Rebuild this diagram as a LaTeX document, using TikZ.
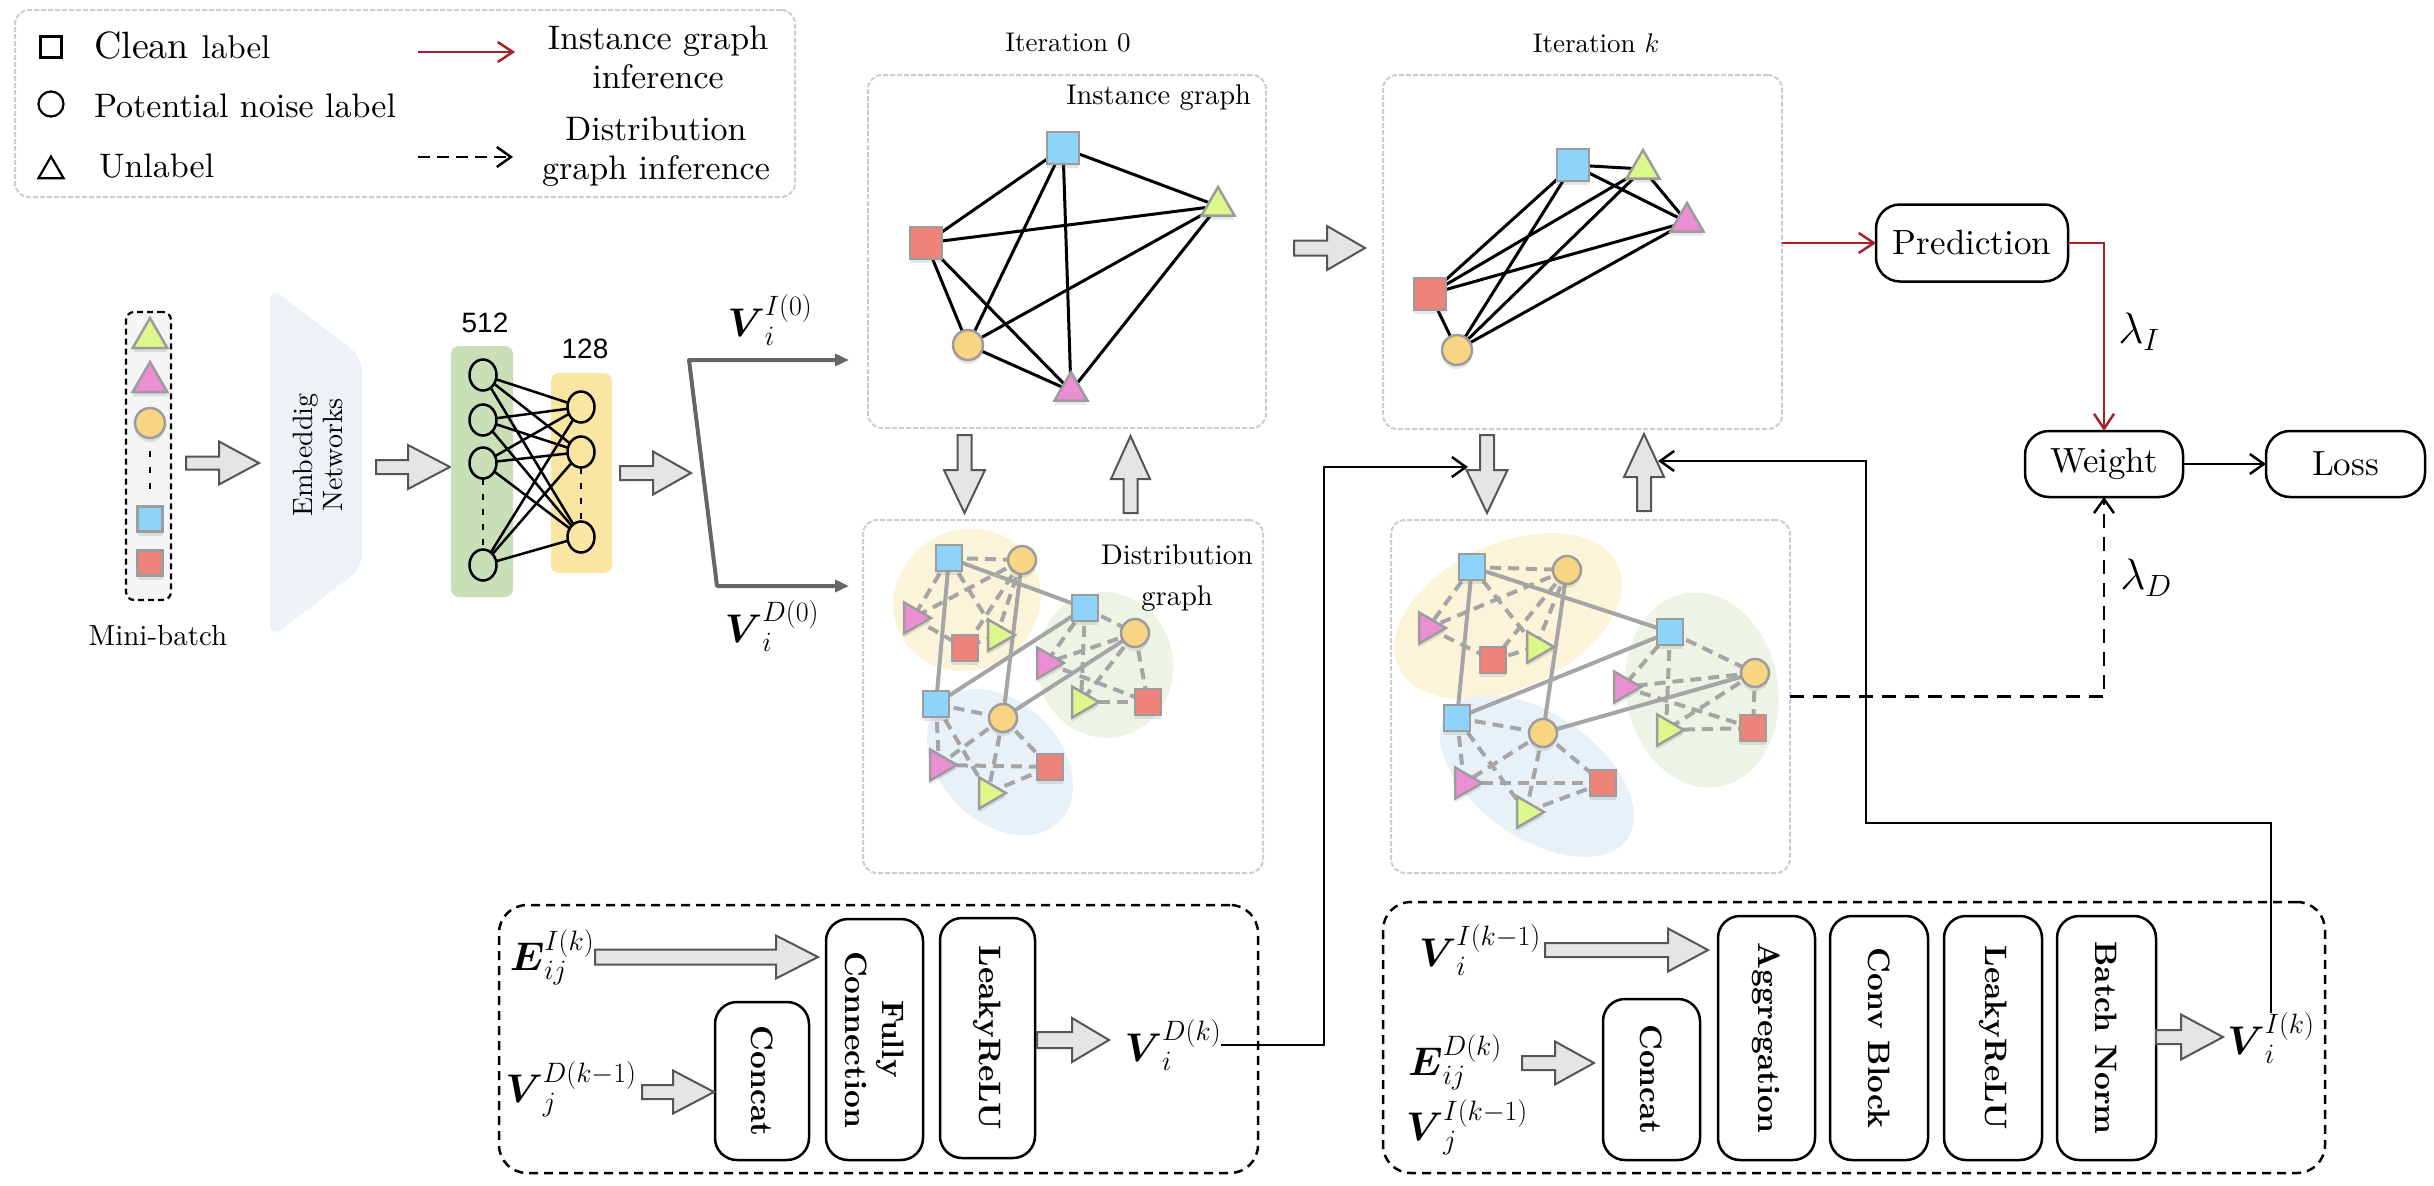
\RequirePackage{fix-cm}
\documentclass[tikz,border=0pt]{standalone}
\usepackage{amsmath}
\usepackage{fontspec}
\setmainfont{lmroman10-regular.otf}[BoldFont=lmroman10-bold.otf,ItalicFont=lmroman10-italic.otf,BoldItalicFont=lmroman10-bolditalic.otf]
\usetikzlibrary{shapes.geometric,arrows.meta,shadows,calc}
\newfontfamily\hel{Liberation Sans}
\newcommand\fsz[1]{\fontsize{#1}{#1}\selectfont}
\newcommand\fs[2]{\fontsize{#1}{#2}\selectfont}
\definecolor{cblue}{HTML}{8ED4FA}
\definecolor{cred}{HTML}{EE837A}
\definecolor{cgreen}{HTML}{DDF78A}
\definecolor{cpink}{HTML}{EC8ED4}
\definecolor{corange}{HTML}{F8D582}
\definecolor{ngray}{HTML}{9C9C9C}
\definecolor{eyel}{HTML}{FCF4D9}
\definecolor{egrn}{HTML}{EDF3E5}
\definecolor{eblu}{HTML}{E8F0F8}
\definecolor{lgreen}{HTML}{C8DFB8}
\definecolor{lyel}{HTML}{FAE5A3}
\definecolor{embc}{HTML}{ECF2F5}
\definecolor{mbfill}{HTML}{F4F5F7}
\definecolor{boxg}{HTML}{CDCDCD}
\definecolor{arrf}{HTML}{E5E5E5}
\definecolor{arrd}{HTML}{555555}
\definecolor{forkc}{HTML}{666666}
\definecolor{dred}{HTML}{A3222B}
\definecolor{egray}{HTML}{A5A5A5}
\pgfdeclarelayer{bg}
\pgfsetlayers{bg,main}
\newcommand\harr[6]{\draw[barrow] (#1,#3-#4) -- (#2-#6,#3-#4) -- (#2-#6,#3-#5) -- (#2,#3) -- (#2-#6,#3+#5) -- (#2-#6,#3+#4) -- (#1,#3+#4) -- cycle;}
\newcommand\darr[6]{\draw[barrow] (#1-#4,#2) -- (#1-#4,#3-#6) -- (#1-#5,#3-#6) -- (#1,#3) -- (#1+#5,#3-#6) -- (#1+#4,#3-#6) -- (#1+#4,#2) -- cycle;}
\newcommand\uarr[6]{\draw[barrow] (#1-#4,#2) -- (#1-#4,#3+#6) -- (#1-#5,#3+#6) -- (#1,#3) -- (#1+#5,#3+#6) -- (#1+#4,#3+#6) -- (#1+#4,#2) -- cycle;}
\begin{document}
\begin{tikzpicture}[x=1pt,y=-1pt,
  every node/.style={inner sep=0pt,outer sep=0pt},
  shad/.style={drop shadow={shadow xshift=0pt,shadow yshift=-4pt,opacity=0.2}},
  nsq/.style={rectangle,minimum size=#1,draw=ngray,line width=2.5pt,shad},
  nci/.style={circle,minimum size=#1,draw=ngray,line width=2.5pt,fill=corange,shad},
  ntu/.style={regular polygon,regular polygon sides=3,minimum size=#1,draw=ngray,line width=2.5pt,shad},
  ntr/.style={regular polygon,regular polygon sides=3,minimum size=#1,draw=ngray,line width=2.5pt,shape border rotate=-90,shad},
  neur/.style={ellipse,draw=black,line width=2.5pt,minimum width=27pt,minimum height=31pt},
  barrow/.style={fill=arrf,draw=arrd,line width=2pt,line join=miter},
  gbox/.style={draw=boxg,line width=2pt,dash pattern=on 5pt off 2pt,rounded corners=14pt},
  iedge/.style={black,line width=3pt},
  dsol/.style={egray,line width=4pt},
  ddash/.style={egray,line width=4pt,dash pattern=on 11pt off 7pt},
  fork/.style={forkc,line width=4pt,line join=round},
  redarr/.style={dred,line width=2.5pt,-{Straight Barb[length=15pt,width=20pt,line width=2.5pt]}},
  blkarr/.style={black,line width=2.5pt,-{Straight Barb[length=14pt,width=20pt,line width=2.5pt]}},
  rbox/.style={draw=black,line width=2.5pt,rounded corners=24pt,font=\fs{35}{38}},
  big/.style={font=\fs{34}{39}},
  ibox/.style={draw=black,line width=2.5pt,rounded corners=22pt,rotate=-90,align=center,font=\bfseries\fs{31}{37}},
  dbox/.style={draw=black,line width=2.5pt,dash pattern=on 9pt off 6pt,rounded corners=28pt},
  mlab/.style={font=\fsz{40}}
]
\useasboundingbox (0,0) rectangle (2434,1186);

% ---------------- legend ----------------
\node[gbox,minimum width=780pt,minimum height=187pt] (legend) at (405,103.5) {};
\node[draw=black,line width=2.2pt,minimum size=21pt] (lg1) at (51,47) {};
\node[anchor=base west] (lt1) at (94,58) {\fsz{38}Clean \fsz{33}label};
\node[circle,draw=black,line width=2.2pt,minimum size=25pt] (lg2) at (51,104) {};
\node[anchor=base west,big] (lt2) at (94,117) {Potential noise label};
\node[regular polygon,regular polygon sides=3,draw=black,line width=2.2pt,minimum size=29pt] (lg3) at (51,171) {};
\node[anchor=base west,big] (lt3) at (99,177) {Unlabel};
\coordinate (la1) at (418,52); \coordinate (lb1) at (515,52);
\draw[redarr] (la1) -- (lb1);
\node[align=center,big] (lt4) at (658,57) {Instance graph\\inference};
\coordinate (la2) at (418,157); \coordinate (lb2) at (513,157);
\draw[blkarr,dash pattern=on 12pt off 7pt] (la2) -- (lb2);
\node[align=center,big] (lt5) at (656,152) {Distribution\\graph inference};

% ---------------- mini-batch ----------------
\node[draw=black,line width=2.2pt,dash pattern=on 6pt off 4pt,rounded corners=8pt,fill=mbfill,minimum width=45pt,minimum height=288pt] (mb) at (148.5,456) {};
\node[ntu=40pt,fill=cgreen] (m1) at (150,338) {};
\node[ntu=40pt,fill=cpink] (m2) at (150,382) {};
\node[nci=30pt] (m3) at (150,423) {};
\coordinate (md1) at (150,451); \coordinate (md2) at (150,496);
\draw[black,line width=2.5pt,dash pattern=on 6pt off 10pt] (md1) -- (md2);
\node[nsq=25pt,fill=cblue] (m4) at (150,519) {};
\node[nsq=25pt,fill=cred] (m5) at (150,563) {};
\node[font=\fsz{29}] (mbt) at (158,636) {Mini-batch};

\harr{186}{259}{463}{6.5}{21.5}{40}

% ---------------- embedding ----------------
\path[fill=embc,rounded corners=14pt] (270,287) -- (362,357) -- (362,568) -- (270,638) -- cycle;
\node[rotate=90,align=center,font=\fs{28}{30}] (embt) at (318,455) {Embeddig\\Networks};

\harr{376}{450}{467}{7}{22}{42}

% ---------------- layers ----------------
\node[fill=lgreen,rounded corners=8pt,minimum width=62pt,minimum height=251pt] (lay1) at (482,471.5) {};
\node[fill=lyel,rounded corners=8pt,minimum width=61pt,minimum height=200pt] (lay2) at (581.5,473) {};
\node[font=\hel\fsz{28}] (n512) at (485,323) {512};
\node[font=\hel\fsz{28}] (n128) at (585,349) {128};
\node[neur] (g1) at (483,375) {};
\node[neur] (g2) at (483,420) {};
\node[neur] (g3) at (483,463) {};
\node[neur] (g4) at (483,565) {};
\node[neur] (y1) at (581,407) {};
\node[neur] (y2) at (581,452) {};
\node[neur] (y3) at (581,537) {};
\foreach \a in {g1,g2,g3,g4}{\foreach \b in {y1,y2,y3}{\draw[black,line width=2.5pt] (\a) -- (\b);}}
\draw[black,line width=2.5pt,dash pattern=on 6pt off 9pt] (g3) -- (g4);
\draw[black,line width=2.5pt,dash pattern=on 6pt off 9pt] (y2) -- (y3);

\harr{620}{691}{473}{7}{21.5}{38}

% ---------------- fork ----------------
\node[mlab] (vI0) at (770,320) {$\boldsymbol{V}_i^{I(0)}$};
\node[mlab] (vD0) at (772,626) {$\boldsymbol{V}_i^{D(0)}$};
\coordinate (ftop) at (689,360);
\coordinate (fbot) at (717,586);
\coordinate (fI) at (849,360);
\coordinate (fD) at (849,586);
\draw[fork,{Triangle[length=14pt,width=12pt]}-{Triangle[length=14pt,width=12pt]}] (fI) -- (ftop) -- (fbot) -- (fD);

% ---------------- graph boxes ----------------
\node[font=\fsz{27}] (it0) at (1068,43) {Iteration 0};
\node[font=\fsz{27}] (itk) at (1596,43) {Iteration $k$};
\node[gbox,minimum width=398pt,minimum height=353pt] (inst0) at (1067,251.5) {};
\node[gbox,minimum width=399pt,minimum height=354pt] (instk) at (1582.5,252) {};
\node[gbox,minimum width=400pt,minimum height=353pt] (dist0) at (1063,696.5) {};
\node[gbox,minimum width=399pt,minimum height=353pt] (distk) at (1590.5,696.5) {};
\node[anchor=east,font=\fsz{28.5}] (igt) at (1251,98) {Instance graph};
\node[align=center,font=\fs{28.5}{41}] (dgt) at (1177,578) {Distribution\\graph};

% instance graph 0
\node[nsq=32pt,fill=cblue] (iB) at (1063,148) {};
\node[nsq=32pt,fill=cred] (iR) at (926,243) {};
\node[ntu=38pt,fill=cgreen] (iG) at (1218,206) {};
\node[ntu=38pt,fill=cpink] (iP) at (1071,391) {};
\node[nci=30pt] (iO) at (968,345) {};
\begin{pgfonlayer}{bg}
\foreach \a/\b in {iB/iR,iB/iO,iB/iP,iB/iG,iR/iG,iR/iO,iR/iP,iO/iG,iO/iP,iG/iP}{\draw[iedge] (\a.center) -- (\b.center);}
\end{pgfonlayer}

% instance graph k
\node[nsq=32pt,fill=cblue] (kB) at (1573,165) {};
\node[ntu=38pt,fill=cgreen] (kG) at (1643,169) {};
\node[ntu=38pt,fill=cpink] (kP) at (1687,222) {};
\node[nsq=32pt,fill=cred] (kR) at (1430,294) {};
\node[nci=30pt] (kO) at (1457,350) {};
\begin{pgfonlayer}{bg}
\foreach \a/\b in {kB/kG,kB/kP,kG/kP,kR/kB,kR/kG,kR/kP,kR/kO,kO/kB,kO/kG,kO/kP}{\draw[iedge] (\a.center) -- (\b.center);}
\end{pgfonlayer}

% distribution graph 0
\begin{pgfonlayer}{bg}
\fill[eyel] (967,600) ellipse [x radius=75, y radius=70, rotate=30];
\fill[egrn] (1105,665) ellipse [x radius=68, y radius=73, rotate=10];
\fill[eblu] (1000,762) ellipse [x radius=84, y radius=60, rotate=-45];
\end{pgfonlayer}
\node[nsq=26pt,fill=cblue] (aB1) at (949,558) {};
\node[nci=28pt] (aO1) at (1022,560) {};
\node[ntr=36pt,fill=cpink] (aP1) at (913,618) {};
\node[nsq=26pt,fill=cred] (aR1) at (965,648) {};
\node[ntr=36pt,fill=cgreen] (aG1) at (997,635) {};
\node[nsq=26pt,fill=cblue] (aB2) at (1085,608) {};
\node[nci=28pt] (aO2) at (1135,633) {};
\node[ntr=36pt,fill=cpink] (aP2) at (1046,663) {};
\node[ntr=36pt,fill=cgreen] (aG2) at (1081,702) {};
\node[nsq=26pt,fill=cred] (aR2) at (1148,702) {};
\node[nsq=26pt,fill=cblue] (aB3) at (936,704) {};
\node[nci=28pt] (aO3) at (1003,718) {};
\node[ntr=36pt,fill=cpink] (aP3) at (939,765) {};
\node[ntr=36pt,fill=cgreen] (aG3) at (988,793) {};
\node[nsq=26pt,fill=cred] (aR3) at (1050,767) {};
\begin{pgfonlayer}{bg}
\foreach \i in {1,2,3}{
  \foreach \a/\b in {B/O,B/P,B/G,O/P,O/G,O/R,P/R,G/R}{\draw[ddash] (a\a\i.center) -- (a\b\i.center);}
}
\foreach \a/\b in {aB1/aB2,aB1/aB3,aO1/aO3,aB3/aB2,aO3/aO2}{\draw[dsol] (\a.center) -- (\b.center);}
\end{pgfonlayer}

% distribution graph k
\begin{pgfonlayer}{bg}
\fill[eyel] (1508,616) ellipse [x radius=121, y radius=72, rotate=25];
\fill[egrn] (1702,690) ellipse [x radius=76, y radius=98, rotate=10];
\fill[eblu] (1537,776) ellipse [x radius=110, y radius=62, rotate=-35];
\end{pgfonlayer}
\node[nsq=26pt,fill=cblue] (bB1) at (1472,567) {};
\node[nci=28pt] (bO1) at (1567,570) {};
\node[ntr=36pt,fill=cpink] (bP1) at (1428,628) {};
\node[nsq=26pt,fill=cred] (bR1) at (1493,660) {};
\node[ntr=36pt,fill=cgreen] (bG1) at (1536,647) {};
\node[nsq=26pt,fill=cblue] (bB2) at (1670,632) {};
\node[nci=28pt] (bO2) at (1755,673) {};
\node[ntr=36pt,fill=cpink] (bP2) at (1623,687) {};
\node[ntr=36pt,fill=cgreen] (bG2) at (1666,730) {};
\node[nsq=26pt,fill=cred] (bR2) at (1753,728) {};
\node[nsq=26pt,fill=cblue] (bB3) at (1457,718) {};
\node[nci=28pt] (bO3) at (1543,733) {};
\node[ntr=36pt,fill=cpink] (bP3) at (1464,783) {};
\node[ntr=36pt,fill=cgreen] (bG3) at (1526,812) {};
\node[nsq=26pt,fill=cred] (bR3) at (1603,783) {};
\begin{pgfonlayer}{bg}
\foreach \i in {1,2,3}{
  \foreach \a/\b in {B/O,B/P,B/G,O/P,O/G,O/R,P/R,G/R}{\draw[ddash] (b\a\i.center) -- (b\b\i.center);}
}
\foreach \a/\b in {bB1/bB2,bB1/bB3,bO1/bO3,bB3/bB2,bO3/bO2}{\draw[dsol] (\a.center) -- (\b.center);}
\end{pgfonlayer}

% block arrows between graphs
\harr{1294}{1365}{248}{7.5}{22}{38}
\darr{964.5}{435}{513}{7}{20.5}{43}
\uarr{1130.5}{513}{436}{7}{19.5}{43}
\darr{1487}{435}{513}{7}{20.5}{43}
\uarr{1644}{511}{434}{7}{20}{43}

% ---------------- right side ----------------
\node[rbox,minimum width=192pt,minimum height=77pt] (pred) at (1972,243) {Prediction};
\node[rbox,minimum width=158pt,minimum height=66pt] (weight) at (2104,464) {Weight};
\node[rbox,minimum width=159pt,minimum height=66pt] (loss) at (2345.5,464) {Loss};
\draw[redarr] (instk.east |- pred.west) -- (pred.west);
\draw[dred,line width=2.5pt,-{Straight Barb[length=15pt,width=20pt,line width=2.5pt]}] (pred.east) -| (weight.north);
\draw[blkarr] (weight.east) -- (loss.west);
\draw[blkarr,dash pattern=on 14pt off 9pt] (distk.east) -| (weight.south);
\node[font=\fsz{44}] (lI) at (2139,332) {$\lambda_I$};
\node[font=\fsz{44}] (lD) at (2146,578) {$\lambda_D$};

% ---------------- bottom left ----------------
\node[dbox,minimum width=759pt,minimum height=268pt] (bl) at (878.5,1039) {};
\node[mlab] (eIk) at (552,957) {$\boldsymbol{E}_{ij}^{I(k)}$};
\node[mlab] (vDj) at (571,1089) {$\boldsymbol{V}_j^{D(k-1)}$};
\node[ibox,minimum width=158pt,minimum height=94pt] (cc1) at (762,1081) {Concat};
\node[ibox,minimum width=241pt,minimum height=97pt] (fc1) at (874.5,1039.5) {Fully\\Connection};
\node[ibox,minimum width=240pt,minimum height=95pt] (lr1) at (987.5,1038) {LeakyReLU};
\node[mlab] (vDk) at (1173,1045) {$\boldsymbol{V}_i^{D(k)}$};
\harr{595}{818}{957}{7.5}{21.5}{42}
\harr{642}{714}{1092}{7}{21.5}{41}
\harr{1037}{1109}{1040}{8}{22}{37}

% ---------------- bottom right ----------------
\node[dbox,minimum width=942pt,minimum height=271pt] (br) at (1854,1037.5) {};
\node[mlab] (vIi) at (1480,950) {$\boldsymbol{V}_i^{I(k-1)}$};
\node[mlab] (eDk) at (1455,1062) {$\boldsymbol{E}_{ij}^{D(k)}$};
\node[mlab] (vIj) at (1467,1127) {$\boldsymbol{V}_j^{I(k-1)}$};
\node[ibox,minimum width=161pt,minimum height=97pt] (cc2) at (1651.5,1079.5) {Concat};
\node[ibox,minimum width=244pt,minimum height=97pt] (ag) at (1766.5,1038) {Aggregation};
\node[ibox,minimum width=244pt,minimum height=98pt] (cb) at (1879,1038) {Conv Block};
\node[ibox,minimum width=244pt,minimum height=98pt] (lr2) at (1993,1038) {LeakyReLU};
\node[ibox,minimum width=244pt,minimum height=99pt] (bn) at (2106.5,1038) {Batch Norm};
\node[mlab] (vIk) at (2271,1038) {$\boldsymbol{V}_i^{I(k)}$};
\harr{1545}{1708}{950}{7}{21.5}{40}
\harr{1522}{1594}{1063}{7}{21.5}{39}
\harr{2156}{2223}{1037}{7}{22.5}{42}

% ---------------- feedback connectors ----------------
\coordinate (c1) at (1324,467);
\coordinate (dkin) at (1468,467);
\draw[blkarr] (vDk.east) -| (c1) -- (dkin);
\coordinate (c3) at (1866,823);
\coordinate (ukin) at (1658,461);
\draw[blkarr] (vIk.north) |- (c3) |- (ukin);
\end{tikzpicture}
\end{document}
